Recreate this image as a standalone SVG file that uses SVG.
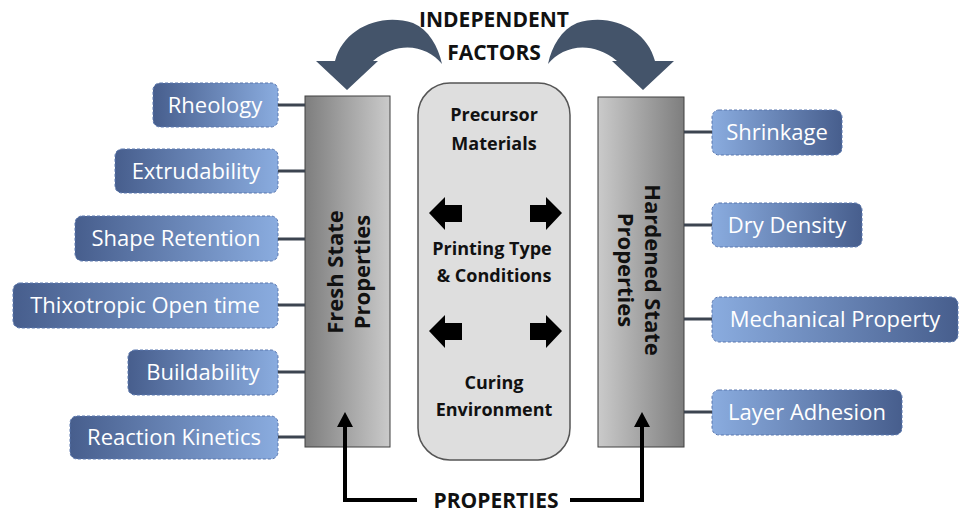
<svg xmlns="http://www.w3.org/2000/svg" width="960" height="515" viewBox="0 0 960 515">
<defs>
<linearGradient id="gL" x1="0" y1="0" x2="1" y2="0"><stop offset="0" stop-color="#475e8d"/><stop offset="1" stop-color="#8aacdf"/></linearGradient>
<linearGradient id="gR" x1="0" y1="0" x2="1" y2="0"><stop offset="0" stop-color="#8aacdf"/><stop offset="1" stop-color="#475e8d"/></linearGradient>
<linearGradient id="bL" x1="0" y1="0" x2="1" y2="0"><stop offset="0" stop-color="#7e7e7e"/><stop offset="1" stop-color="#cacaca"/></linearGradient>
<linearGradient id="bR" x1="0" y1="0" x2="1" y2="0"><stop offset="0" stop-color="#cacaca"/><stop offset="1" stop-color="#7e7e7e"/></linearGradient>
</defs>
<style>
.box{stroke:#5a78b0;stroke-width:1;stroke-dasharray:3 2}
.bt{font-family:"Open Sans","Liberation Sans",sans-serif;font-size:22px;fill:#fff;text-anchor:middle}
.hd{font-family:"Open Sans","Liberation Sans",sans-serif;font-weight:bold;fill:#111;text-anchor:middle}
.con{stroke:#3c4450;stroke-width:3;fill:none}
.bar{stroke:#404040;stroke-width:1}
</style>
<rect width="960" height="515" fill="#fff"/>

<g id="title">
<text class="hd" x="494" y="27" font-size="21">INDEPENDENT</text>
<text class="hd" x="494" y="60" font-size="21">FACTORS</text>
</g>

<g id="fresh">
<rect class="bar" x="305" y="96" width="85" height="351" fill="url(#bL)"/>
<text class="hd" font-size="22" transform="translate(347,272) rotate(-90)"><tspan x="0" y="-4">Fresh State</tspan><tspan x="0" y="23">Properties</tspan></text>
</g>

<g id="hardened">
<rect class="bar" x="598" y="97" width="86" height="350" fill="url(#bR)"/>
<text class="hd" font-size="22" transform="translate(641,270) rotate(90)"><tspan x="0" y="-4">Hardened State</tspan><tspan x="0" y="23">Properties</tspan></text>
</g>

<g id="center">
<rect x="418" y="83" width="152" height="377" rx="32" fill="#dedede" stroke="#555" stroke-width="1.5"/>
<text class="hd" font-size="18"><tspan x="494" y="121">Precursor</tspan><tspan x="494" y="150">Materials</tspan></text>
<text class="hd" font-size="18"><tspan x="492" y="255">Printing Type</tspan><tspan x="494" y="282">&amp; Conditions</tspan></text>
<text class="hd" font-size="18"><tspan x="494" y="389">Curing</tspan><tspan x="494" y="416">Environment</tspan></text>
<path d="M429,213L445,197V205H462V222H445V230Z" fill="#000"/>
<path d="M562,213L546,197V205H530V222H546V230Z" fill="#000"/>
<path d="M429,331L445,315V323H462V340H445V348Z" fill="#000"/>
<path d="M562,331L546,315V323H530V340H546V348Z" fill="#000"/>
</g>

<g id="rheology"><rect class="box" x="153" y="83" width="125" height="44" rx="7" fill="url(#gL)"/><text class="bt" x="215" y="113">Rheology</text></g>
<g id="extrudability"><rect class="box" x="115" y="149" width="163" height="44" rx="7" fill="url(#gL)"/><text class="bt" x="196" y="179">Extrudability</text></g>
<g id="shape"><rect class="box" x="75" y="216" width="203" height="45" rx="7" fill="url(#gL)"/><text class="bt" x="176" y="246">Shape Retention</text></g>
<g id="thixo"><rect class="box" x="13" y="283" width="265" height="45" rx="7" fill="url(#gL)"/><text class="bt" x="145" y="313">Thixotropic Open time</text></g>
<g id="buildability"><rect class="box" x="128" y="350" width="150" height="45" rx="7" fill="url(#gL)"/><text class="bt" x="203" y="380">Buildability</text></g>
<g id="reaction"><rect class="box" x="70" y="416" width="208" height="43" rx="7" fill="url(#gL)"/><text class="bt" x="174" y="445">Reaction Kinetics</text></g>

<g id="shrinkage"><rect class="box" x="712" y="110" width="130" height="45" rx="7" fill="url(#gR)"/><text class="bt" x="777" y="140">Shrinkage</text></g>
<g id="dry"><rect class="box" x="712" y="203" width="150" height="44" rx="7" fill="url(#gR)"/><text class="bt" x="787" y="233">Dry Density</text></g>
<g id="mech"><rect class="box" x="712" y="297" width="246" height="45" rx="7" fill="url(#gR)"/><text class="bt" x="835" y="327">Mechanical Property</text></g>
<g id="layer"><rect class="box" x="712" y="390" width="190" height="45" rx="7" fill="url(#gR)"/><text class="bt" x="807" y="420">Layer Adhesion</text></g>

<g id="bottom"><text class="hd" x="496" y="508" font-size="21">PROPERTIES</text></g>

<g id="connectors">
<path class="con" d="M278,105H305M278,171H305M278,239H305M278,305H305M278,372H305M278,437H305"/>
<path class="con" d="M684,132H712M684,225H712M684,319H712M684,412H712"/>
<path d="M417,500H345V425" fill="none" stroke="#000" stroke-width="4"/>
<path d="M570,500H642V425" fill="none" stroke="#000" stroke-width="4"/>
<path d="M337,427L345,412L353,427Z" fill="#000"/>
<path d="M634,427L642,412L650,427Z" fill="#000"/>
<path id="arcL" d="M347,90 L316,61 L335,61 C343,29 380,12 413,23 C429,30 438,46 442,64 C428,47 400,39 373,61 L378,61 Z" fill="#44546a"/>
<use href="#arcL" transform="translate(990,0) scale(-1,1)"/>
</g>
</svg>
